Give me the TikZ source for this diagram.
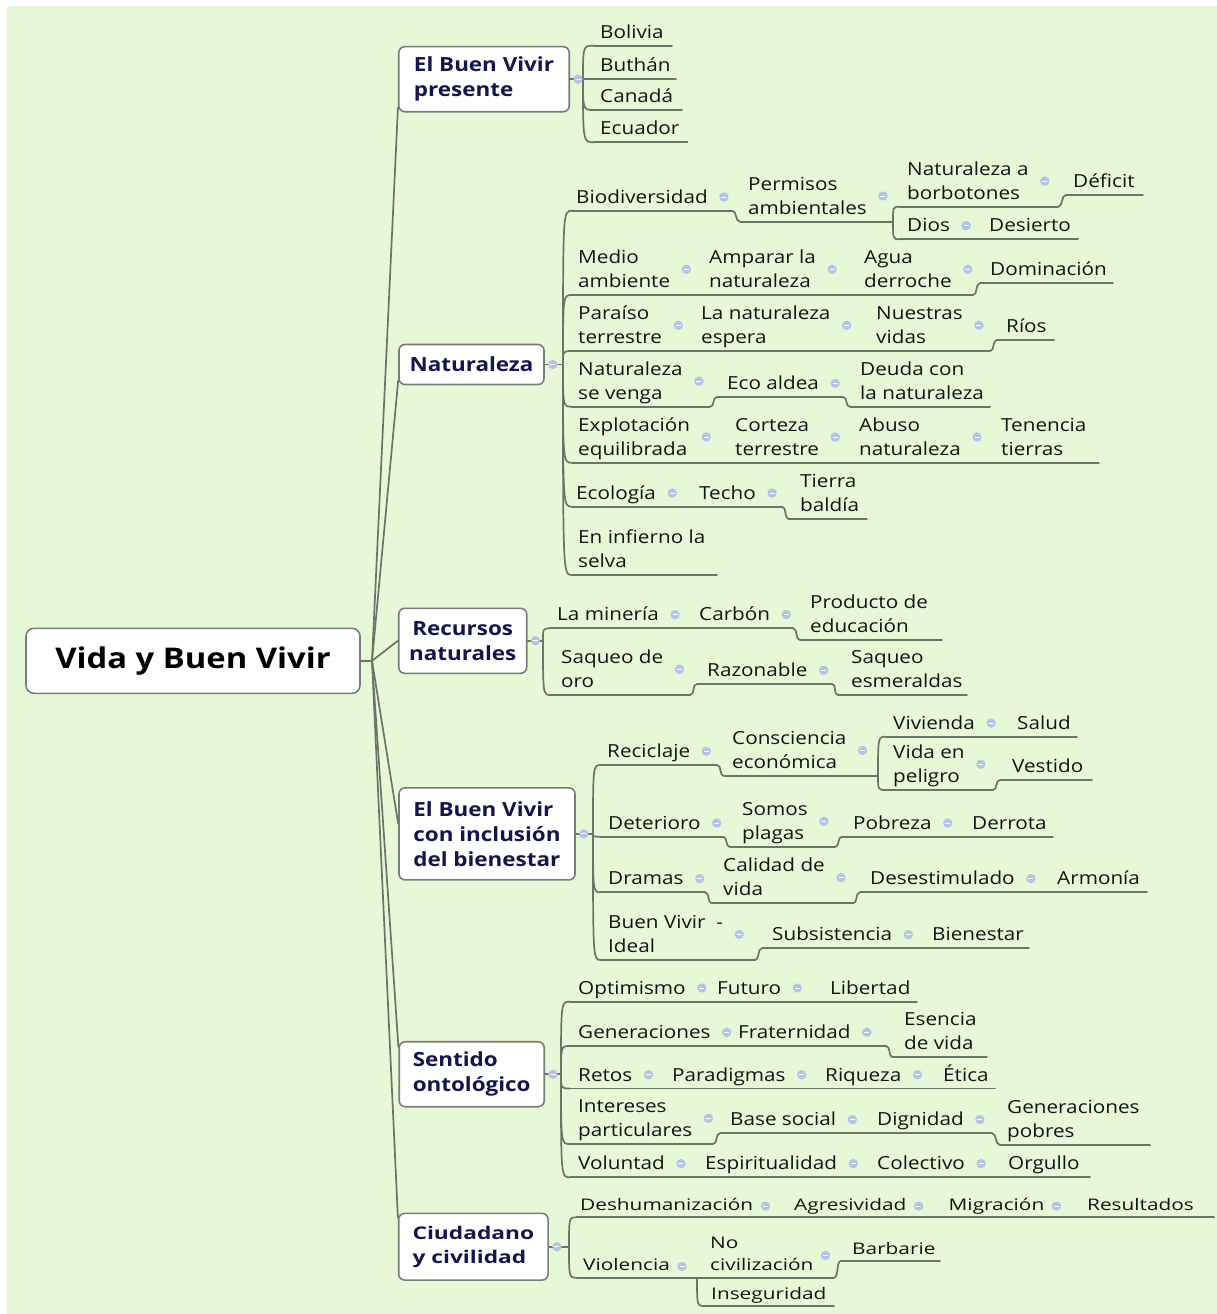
\documentclass[tikz,border=0pt]{standalone}
\usepackage{fontspec}
\setmainfont{Open Sans}[FakeStretch=1.15]
\newfontfamily\nf{Open Sans}[FakeStretch=1.3]
\usetikzlibrary{calc}
\definecolor{bg}{RGB}{230,248,214}
\definecolor{lncol}{RGB}{108,116,106}
\definecolor{navy}{RGB}{20,20,78}
\definecolor{txt}{RGB}{20,20,20}
\definecolor{mk}{RGB}{178,197,232}
\definecolor{bx}{RGB}{122,126,122}
\tikzset{
  ul/.style={draw=lncol, line width=1.7pt, line cap=round},
  conn/.style={draw=lncol, line width=1.7pt, line cap=round},
  sub/.style={anchor=south west, inner sep=0pt, align=left, text=txt, font=\fontsize{18}{24}\selectfont},
  subn/.style={anchor=south west, inner sep=0pt, align=left, text=txt, font=\nf\fontsize{16}{22}\selectfont},
  topic/.style={draw=bx, line width=1.6pt, rounded corners=6pt, fill=white, inner sep=0pt, align=left, text=navy, font=\bfseries\fontsize{19.5}{25}\selectfont},
  topicn/.style={topic, font=\nf\bfseries\fontsize{17.5}{24}\selectfont},
  rootbox/.style={draw=bx, line width=1.6pt, rounded corners=8pt, fill=white, inner sep=0pt, text=black, font=\bfseries\fontsize{28.5}{33}\selectfont}
}
% topic with underline: [style]{name}{text x}{underline y}{underline x1}{underline x2}{text}
\newcommand\tpc[7][sub]{%
  \node[#1] (#2) at (#3,#4) {\strut#7\strut};
  \coordinate (#2-l) at (#5,#4);
  \coordinate (#2-r) at (#6,#4);
  \draw[ul] (#2-l) -- (#2-r);}
\newcommand\cn[2]{\draw[conn] (#1-r) .. controls +(5,0) and +(-5,0) .. (#2-l);}
\newcommand\br[2]{\draw[conn] (#1) .. controls (#1 |- #2-l) .. (#2-l);}
\newcommand\mkat[1]{\begin{scope}[shift={(#1)}]\fill[mk] (0,0) circle (4.7pt);\draw[white, line width=1pt] (-2.5,0) -- (2.5,0);\end{scope}}
\newcommand\mkr[1]{\mkat{$(#1.east)+(16,-1.5)$}}
\newcommand\mkn[1]{\mkat{$(#1.east)+(12,0)$}}
\begin{document}
\begin{tikzpicture}[x=1pt,y=-1pt]
\useasboundingbox (0,0) rectangle (1217,1314);
\fill[bg] (7,6) rectangle (1217,1314);

% root and main topics
\node[rootbox, minimum width=334pt, minimum height=65pt] (root) at (193,660.8) {Vida y Buen Vivir};
\coordinate (R) at (372,660.8);
\node[topic, minimum width=170.5pt, minimum height=65pt] (t1) at (484,79.2) {El Buen Vivir\\presente};
\node[topic, minimum width=145pt, minimum height=40pt] (t2) at (471.5,364.5) {Naturaleza};
\node[topic, align=center, minimum width=128pt, minimum height=65pt] (t3) at (462.7,640.8) {Recursos\\naturales};
\node[topic, minimum width=176pt, minimum height=92pt] (t4) at (487,833.9) {El Buen Vivir\\con inclusión\\del bienestar};
\node[topic, minimum width=145pt, minimum height=65pt] (t5) at (471.7,1074.2) {Sentido\\ontológico};
\node[topicn, minimum width=149.4pt, minimum height=66.7pt] (t6) at (473.4,1246.7) {Ciudadano\\y civilidad};

\draw[conn] (root.east) -- (R);
\draw[conn] (R) -- ($(t1.south west)+(0,-5)$);
\draw[conn] (R) -- ($(t2.south west)+(0,-5)$);
\draw[conn] (R) -- (t3.west);
\draw[conn] (R) -- ($(t4.west)+(0,-10)$);
\draw[conn] (R) -- ($(t5.north west)+(0,6)$);
\draw[conn] (R) -- ($(t6.north west)+(0,5)$);

% junctions
\coordinate (J1) at (583,79.2);
\coordinate (J2) at (563,364.5);
\coordinate (J3) at (543,640.8);
\coordinate (J4) at (593,833.9);
\coordinate (J5) at (561,1074.2);
\coordinate (J6) at (569,1246.7);
\foreach \t/\j in {t1/J1,t2/J2,t3/J3,t4/J4,t5/J5,t6/J6}{\draw[conn] (\t.east) -- (\j);}

% ---- Section 1
\tpc{s1a}{600}{45.7}{594}{672}{Bolivia}
\tpc{s1b}{600}{79.2}{594}{676}{Buthán}
\tpc{s1c}{600}{110}{594}{682}{Canadá}
\tpc{s1d}{600}{142.3}{594}{687.5}{Ecuador}
\br{J1}{s1a}\br{J1}{s1b}\br{J1}{s1c}\br{J1}{s1d}

% ---- Section 2
\tpc{n1}{576}{210.7}{572}{732}{Biodiversidad}
\tpc{n1a}{748}{221.7}{740}{890}{Permisos\\ambientales}
\coordinate (n1aJ) at (893,221.7);
\tpc{n1a1}{907}{206.7}{900}{1058}{Naturaleza a\\borbotones}
\tpc{n1a1a}{1073}{195}{1066}{1143}{Déficit}
\tpc{n1a2}{907}{239.3}{900}{975}{Dios}
\tpc{n1a2a}{989}{239.3}{975}{1078}{Desierto}
\tpc{n2}{578}{295}{572}{700}{Medio\\ambiente}
\tpc{n2a}{709}{295}{700}{855}{Amparar la\\naturaleza}
\tpc{n2b}{864}{295}{855}{973}{Agua\\derroche}
\tpc{n2c}{990}{283.3}{980}{1113}{Dominación}
\tpc{n3}{578}{351}{572}{690}{Paraíso\\terrestre}
\tpc{n3a}{701}{351}{690}{865}{La naturaleza\\espera}
\tpc{n3b}{876}{351}{865}{990}{Nuestras\\vidas}
\tpc{n3c}{1006}{340}{997}{1054}{Ríos}
\tpc{n4}{578}{406.7}{572}{710}{Naturaleza\\se venga}
\tpc{n4a}{727}{397}{717}{843}{Eco aldea}
\tpc{n4b}{860}{406.7}{850}{990}{Deuda con\\la naturaleza}
\tpc{n5}{578}{462.7}{572}{725}{Explotación\\equilibrada}
\tpc{n5a}{735}{462.7}{725}{850}{Corteza\\terrestre}
\tpc{n5b}{859}{462.7}{850}{990}{Abuso\\naturaleza}
\tpc{n5c}{1001}{462.7}{990}{1099}{Tenencia\\tierras}
\tpc{n6}{576}{506.7}{572}{690}{Ecología}
\tpc{n6a}{699}{506.7}{690}{782}{Techo}
\tpc{n6b}{800}{519.3}{789}{867}{Tierra\\baldía}
\tpc{n7}{578}{575}{572}{717}{En infierno la\\selva}
\foreach \c in {n1,n2,n3,n4,n5,n6,n7}{\br{J2}{\c}}
\cn{n1}{n1a}
\draw[conn] (n1a-r) -- (n1aJ);
\br{n1aJ}{n1a1}\br{n1aJ}{n1a2}
\cn{n1a1}{n1a1a}\cn{n1a2}{n1a2a}
\cn{n2}{n2a}\cn{n2a}{n2b}\cn{n2b}{n2c}
\cn{n3}{n3a}\cn{n3a}{n3b}\cn{n3b}{n3c}
\cn{n4}{n4a}\cn{n4a}{n4b}
\cn{n5}{n5a}\cn{n5a}{n5b}\cn{n5b}{n5c}
\cn{n6}{n6a}\cn{n6a}{n6b}

% ---- Section 3
\tpc{r1}{557}{628.3}{551}{690}{La minería}
\tpc{r1a}{699}{628.3}{690}{793}{Carbón}
\tpc{r1b}{810}{640}{800}{942}{Producto de\\educación}
\tpc{r2}{561}{695}{551}{690}{Saqueo de\\oro}
\tpc{r2a}{707}{684}{697}{832}{Razonable}
\tpc{r2b}{851}{695}{838}{967}{Saqueo\\esmeraldas}
\br{J3}{r1}\br{J3}{r2}
\cn{r1}{r1a}\cn{r1a}{r1b}\cn{r2}{r2a}\cn{r2a}{r2b}

% ---- Section 4
\tpc{b1}{607}{765}{601}{717}{Reciclaje}
\tpc{b1a}{732}{776}{724}{875}{Consciencia\\económica}
\coordinate (b1aJ) at (878,776);
\tpc{b1a1}{893}{736.7}{886}{1000}{Vivienda}
\tpc{b1a1a}{1017}{736.7}{1000}{1077}{Salud}
\tpc{b1a2}{893}{790}{886}{993}{Vida en\\peligro}
\tpc{b1a2a}{1012}{780}{1000}{1092}{Vestido}
\tpc{b2}{608}{836.7}{601}{723}{Deterioro}
\tpc{b2a}{742}{847}{730}{835}{Somos\\plagas}
\tpc{b2b}{853}{836.7}{842}{960}{Pobreza}
\tpc{b2c}{972}{836.7}{960}{1053}{Derrota}
\tpc{b3}{608}{892.3}{601}{705}{Dramas}
\tpc{b3a}{723}{903.3}{712}{853}{Calidad de\\vida}
\tpc{b3b}{870}{892.3}{860}{1045}{Desestimulado}
\tpc{b3c}{1057}{892.3}{1045}{1147}{Armonía}
\tpc{b4}{608}{960}{601}{755}{Buen Vivir\ \ -\\Ideal}
\tpc{b4a}{772}{948.3}{762}{920}{Subsistencia}
\tpc{b4b}{932}{948.3}{920}{1029}{Bienestar}
\foreach \c in {b1,b2,b3,b4}{\br{J4}{\c}}
\cn{b1}{b1a}
\draw[conn] (b1a-r) -- (b1aJ);
\br{b1aJ}{b1a1}\br{b1aJ}{b1a2}
\cn{b1a1}{b1a1a}\cn{b1a2}{b1a2a}
\cn{b2}{b2a}\cn{b2a}{b2b}\cn{b2b}{b2c}
\cn{b3}{b3a}\cn{b3a}{b3b}\cn{b3b}{b3c}
\cn{b4}{b4a}\cn{b4a}{b4b}

% ---- Section 5
\tpc{o1}{578}{1001.7}{570}{712}{Optimismo}
\tpc{o1a}{717}{1001.7}{712}{820}{Futuro}
\tpc{o1b}{830}{1001.7}{820}{917}{Libertad}
\tpc{o2}{578}{1046}{570}{735}{Generaciones}
\tpc{o2a}{738}{1046}{735}{886}{Fraternidad}
\tpc{o2b}{904}{1057.3}{893}{987}{Esencia\\de vida}
\tpc{o3}{578}{1088.5}{570}{660}{Retos}
\tpc{o3a}{672}{1088.5}{660}{815}{Paradigmas}
\tpc{o3b}{825}{1088.5}{815}{932}{Riqueza}
\tpc{o3c}{943}{1088.5}{932}{995}{Ética}
\tpc{o4}{578}{1144}{570}{713}{Intereses\\particulares}
\tpc{o4a}{730}{1133.3}{720}{866}{Base social}
\tpc{o4b}{877}{1133.3}{866}{992}{Dignidad}
\tpc{o4c}{1007}{1145}{1000}{1150}{Generaciones\\pobres}
\tpc{o5}{578}{1177.3}{570}{695}{Voluntad}
\tpc{o5a}{705}{1177.3}{695}{868}{Espiritualidad}
\tpc{o5b}{877}{1177.3}{868}{998}{Colectivo}
\tpc{o5c}{1008}{1177.3}{998}{1090}{Orgullo}
\foreach \c in {o1,o2,o3,o4,o5}{\br{J5}{\c}}
\cn{o1}{o1a}\cn{o1a}{o1b}
\cn{o2}{o2a}\cn{o2a}{o2b}
\cn{o3}{o3a}\cn{o3a}{o3b}\cn{o3b}{o3c}
\cn{o4}{o4a}\cn{o4a}{o4b}\cn{o4b}{o4c}
\cn{o5}{o5a}\cn{o5a}{o5b}\cn{o5b}{o5c}

% ---- Section 6
\tpc[subn]{c1}{580}{1217.3}{577}{785}{Deshumanización}
\tpc[subn]{c1a}{794}{1217.3}{785}{938}{Agresividad}
\tpc[subn]{c1b}{948.5}{1217.3}{938}{1075}{Migración}
\tpc[subn]{c1c}{1087}{1217.3}{1075}{1214}{Resultados}
\tpc[subn]{c2}{583}{1277.7}{577}{695}{Violencia}
\coordinate (c2J) at (697,1277.7);
\tpc[subn]{c2a}{710}{1277.7}{705}{834}{No\\civilización}
\tpc[subn]{c2b}{852}{1261}{841}{940}{Barbarie}
\tpc[subn]{c2c}{711}{1306}{705}{834}{Inseguridad}
\br{J6}{c1}\br{J6}{c2}
\cn{c1}{c1a}\cn{c1a}{c1b}\cn{c1b}{c1c}
\draw[conn] (c2-r) -- (c2J);
\br{c2J}{c2a}\br{c2J}{c2c}
\cn{c2a}{c2b}

% ---- collapse markers
\foreach \t in {t1,t2,t3,t4,t5,t6}{\mkat{$(\t.east)+(8,0)$}}
\foreach \p in {n1,n1a,n1a1,n1a2,n2,n2a,n2b,n3,n3a,n3b,n4,n4a,n5,n5a,n5b,n6,n6a,
  r1,r1a,r2,r2a,b1,b1a,b1a1,b1a2,b2,b2a,b2b,b3,b3a,b3b,b4,b4a,
  o1,o1a,o2,o2a,o3,o3a,o3b,o4,o4a,o4b,o5,o5a,o5b}{\mkr{\p}}
\foreach \p in {c1,c1a,c1b,c2,c2a}{\mkn{\p}}
\end{tikzpicture}
\end{document}
